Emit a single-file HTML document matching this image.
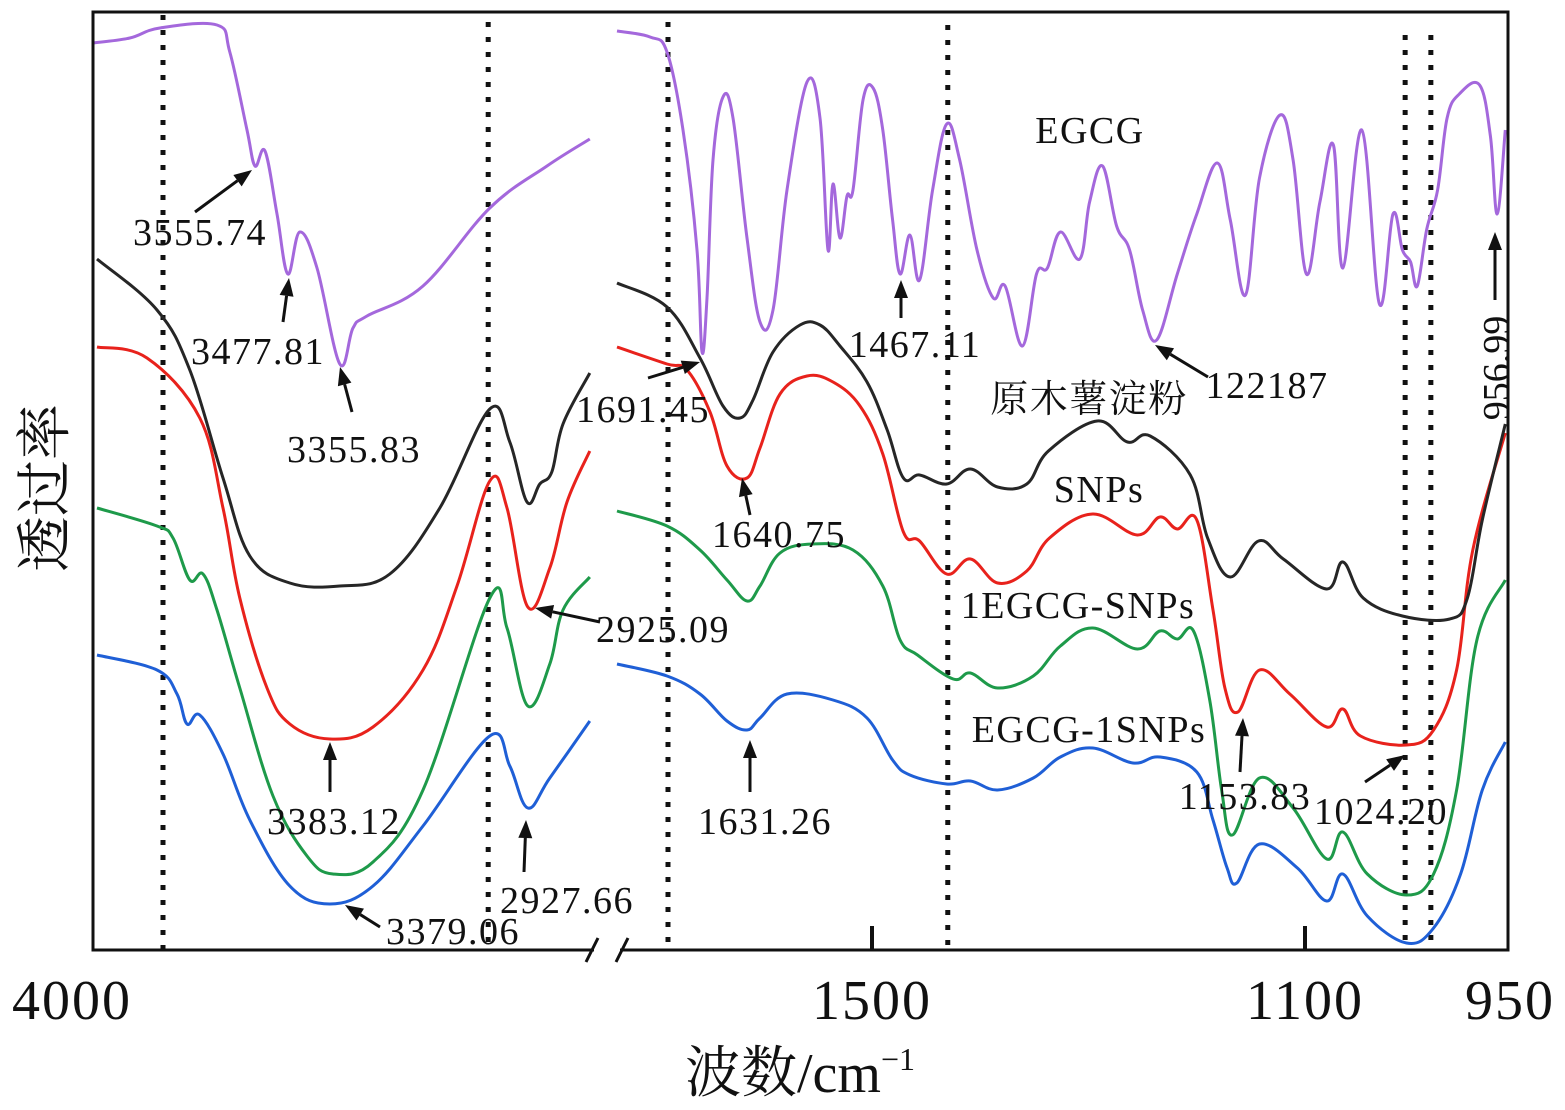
<!DOCTYPE html>
<html><head><meta charset="utf-8">
<style>
html,body{margin:0;padding:0;background:#fff;}
svg{display:block;}
text{font-family:"Liberation Serif","Noto Serif CJK SC",serif;fill:#111;}
</style></head>
<body>
<svg id="chart" width="1565" height="1110" viewBox="0 0 1565 1110" xmlns="http://www.w3.org/2000/svg">
  <rect x="0" y="0" width="1565" height="1110" fill="#fff"/>
  <g id="dots"></g>
  <g id="series"></g>
  <g id="frame">
    <rect x="93" y="12" width="1415" height="938" fill="none" stroke="#111" stroke-width="3"/>
    <rect x="594" y="944" width="26" height="12" fill="#fff"/>
    <line x1="586" y1="962" x2="598" y2="938" stroke="#111" stroke-width="3"/>
    <line x1="616" y1="962" x2="628" y2="938" stroke="#111" stroke-width="3"/>
  </g>
  <g id="ticks"></g>
  <g id="annot"></g>
  <text x="800" y="1092" font-size="56" text-anchor="middle">波数/cm<tspan font-size="32" dy="-22">−1</tspan></text>
  <text transform="translate(64,488) rotate(-90)" font-size="56" text-anchor="middle">透过率</text>
</svg>
<script>
// ---- data ----
const tickLabels = [4000, 1500, 1100, 950];
const tickMarks = [1500, 1100];
const dottedWavenumbers = [3825, 3012, 1704, 1430, 1026, 1007];

const egcgWn = [4000,3908,3833,3690,3658,3615,3595,3570,3540,3513,3483,3440,3383,3350,3315,3175,3008,2865,2758,
  1755,1722,1705,1689,1675,1670,1665,1659,1649,1639,1625,1612,1599,1585,1565,1552,1544,1539,1532,1525,1519,1509,1499,
  1490,1481,1474,1465,1456,1444,1431,1419,1403,1388,1377,1361,1348,1338,1326,1308,1299,1287,1274,1262,1250,1237,1218,1200,1181,1169,1155,1142,1123,1111,
  1099,1089,1079,1072,1058,1045,1035,1028,1022,1017,1010,1002,995,986,971,963,958,952];
const egcgVal = [90.7,91.2,92.2,92.5,89.8,82,78.4,79.9,73.6,67.6,71.8,68.2,58.6,62.2,63.4,66.4,74.2,78.4,81.1,
  91.9,91.3,89.8,82,70,59.8,65.2,79,85.3,83.2,71.2,62.8,64,76,86.8,83.2,70,76.6,71.2,75.4,76,85,86.2,
  82,73,67.6,71.5,67,76,82.6,79,70,65.2,66.4,60.4,67.6,68.2,71.8,69.1,74.8,78.4,72.4,70,64,61,67.6,73.6,78.7,73,65.5,77.2,83.5,79,
  67.6,74.8,80.5,68.2,82,64.6,73.6,70,68.8,66.4,72.1,76,83.2,85.6,86.5,81.4,73.6,82];

const snpWn = [3990,3840,3758,3675,3608,3508,3383,3258,3133,3008,2958,2915,2883,2853,2825,2758,
  1755,1705,1672,1649,1632,1619,1599,1572,1552,1532,1505,1486,1471,1456,1431,1409,1384,1357,1337,1292,1264,1243,1206,1190,1169,1143,1120,1084,1072,1057,1028,993,980,969,952];
const snpVal = [69.1,64,58,47.2,39.4,36.7,36.4,37.6,44.2,54.1,50.8,44.8,46.6,47.8,52.6,57.7,
  66.7,64.3,59.2,54.4,53.2,55,59.8,62.5,62.5,60.4,56.8,52,47.2,47.5,46.6,48.1,46.3,46.6,49.9,52.9,50.8,51.4,47.5,41.2,37.3,40.9,39.1,36.1,38.8,35.2,33.4,33.1,35.2,43,52.6];

const esnpWn = [3990,3865,3733,3675,3633,3565,3508,3408,3300,3175,3090,3008,2965,2913,2858,2815,2758,
  1755,1705,1685,1662,1645,1625,1612,1592,1565,1539,1512,1490,1471,1456,1431,1409,1384,1357,1336,1296,1255,1234,1218,1200,1185,1174,1162,1142,1114,1084,1072,1059,1025,1005,988,976,952];
const esnpVal = [60.3,59.2,53.2,44.2,35.2,26.2,22.6,21.1,22.3,28,36.4,46.9,44.2,34.3,38.2,44.8,49.9,
  60.3,58.6,58,53.8,48.4,47.2,50.2,55.6,57.4,56.8,54.4,49.6,41.8,40.9,37.6,39.1,36.7,37.9,41.2,43.6,41.5,43.3,42.1,43,34,26.2,23.8,28,25.6,22.3,24.1,21.4,20.5,22,28,40,51.7];

const e1snpWn = [3990,3840,3800,3758,3725,3690,3633,3550,3465,3400,3300,3175,3008,2965,2913,2858,2825,2758,
  1755,1705,1672,1645,1625,1612,1592,1559,1519,1490,1474,1458,1425,1409,1384,1351,1326,1296,1255,1234,1218,1203,1188,1177,1167,1142,1111,1084,1072,1054,1025,1005,988,973,952];
const e1snpVal = [44.2,42.4,41.2,37,37.6,34,26.2,15.4,9.4,7.6,8.8,16,35.2,32.2,24.4,28.6,34,37.3,
  43.9,42.4,40,37,34.9,36.4,39.7,40.6,40,36.4,31,29.5,27.1,27.7,26.2,27.4,30.4,32.2,30.1,31.9,31.1,31.9,25,16,11.5,17.2,14.2,9.1,11.8,7.6,5.5,7.6,16,31,37];

const esnp1Wn = [3990,3840,3790,3765,3733,3675,3608,3508,3408,3300,3175,3008,2958,2913,2858,2758,
  1755,1705,1672,1645,1625,1612,1585,1539,1505,1481,1465,1431,1409,1384,1351,1326,1296,1259,1234,1200,1185,1172,1163,1142,1107,1084,1072,1054,1025,1005,985,969,952];
const esnp1Val = [29.5,28,25.6,22.6,23.5,19.6,13,6.4,4.6,6.4,12.4,21.4,18.4,14.2,17.2,22.9,
  28.6,27.4,25.6,22.9,22,23.2,25.6,25,23.2,19,17.5,16.6,16.9,16,17.2,19.3,20.2,18.7,19.3,17.8,13,8.2,6.7,10.6,8.2,4.9,7.6,3.4,0.7,2.2,7.6,16,20.8];

// ---- scales ----
const PLOT_TOP = 12, PLOT_BOTTOM = 950;
function yScale(v){ return PLOT_BOTTOM - v*10; }
const rightKnotsW = [1760,1500,1100,950];
const rightKnotsX = [612,872,1305,1508];
function xScale(w){
  if (w >= 2000) return 93 + (4000 - w)*0.4;
  for (let i=0;i<rightKnotsW.length-1;i++){
    const a=rightKnotsW[i], b=rightKnotsW[i+1];
    if (w<=a && w>=b) return rightKnotsX[i] + (a-w)/(a-b)*(rightKnotsX[i+1]-rightKnotsX[i]);
  }
  return w>1760 ? 612 : 1508;
}
const NS='http://www.w3.org/2000/svg';
function smoothPath(pts){
  let d='M'+pts[0][0].toFixed(1)+','+pts[0][1].toFixed(1);
  for(let i=0;i<pts.length-1;i++){
    const p0=pts[i-1]||pts[i], p1=pts[i], p2=pts[i+1], p3=pts[i+2]||p2;
    const t=0.18;
    const c1=[p1[0]+(p2[0]-p0[0])*t, p1[1]+(p2[1]-p0[1])*t];
    const c2=[p2[0]-(p3[0]-p1[0])*t, p2[1]-(p3[1]-p1[1])*t];
    d+=' C'+c1[0].toFixed(1)+','+c1[1].toFixed(1)+' '+c2[0].toFixed(1)+','+c2[1].toFixed(1)+' '+p2[0].toFixed(1)+','+p2[1].toFixed(1);
  }
  return d;
}
function drawSeries(wn, val, color, name){
  const g=document.getElementById('series');
  const left=[], right=[];
  for(let i=0;i<wn.length;i++){
    const p=[xScale(wn[i]), yScale(val[i])];
    (wn[i]>=2000?left:right).push(p);
  }
  [[left,'left'],[right,'right']].forEach(([pts,side])=>{
    if(pts.length<2) return;
    const path=document.createElementNS(NS,'path');
    path.setAttribute('d',smoothPath(pts));
    path.setAttribute('fill','none');
    path.setAttribute('stroke',color);
    path.setAttribute('stroke-width','3');
    path.setAttribute('stroke-linejoin','round');
    
    
    g.appendChild(path);
  });
}
// dotted lines
(function(){
  const g=document.getElementById('dots');
  const tops=[15,22,22,25,35,35];
  dottedWavenumbers.forEach((w,i)=>{
    const l=document.createElementNS(NS,'line');
    const x=xScale(w);
    l.setAttribute('x1',x);l.setAttribute('x2',x);
    l.setAttribute('y1',tops[i]);l.setAttribute('y2',PLOT_BOTTOM);
    l.setAttribute('stroke','#111');l.setAttribute('stroke-width','5');
    l.setAttribute('stroke-dasharray','5 10');
    
    
    g.appendChild(l);
  });
})();
drawSeries(esnp1Wn, esnp1Val, '#1f5fd6', 'egcg-1snps');
drawSeries(e1snpWn, e1snpVal, '#1e9a4a', '1egcg-snps');
drawSeries(esnpWn, esnpVal, '#e8221c', 'snps');
drawSeries(snpWn, snpVal, '#262626', 'raw-cassava-starch');
drawSeries(egcgWn, egcgVal, '#a468dc', 'egcg');
// ticks
(function(){
  const g=document.getElementById('ticks');
  tickMarks.forEach(w=>{
    const l=document.createElementNS(NS,'line');
    const x=xScale(w);
    l.setAttribute('x1',x);l.setAttribute('x2',x);l.setAttribute('y1',926);l.setAttribute('y2',PLOT_BOTTOM);
    l.setAttribute('stroke','#111');l.setAttribute('stroke-width','4');
    
    
    g.appendChild(l);
  });
  tickLabels.forEach(w=>{
    const t=document.createElementNS(NS,'text');
    let x=xScale(w);
    if(w===4000) x=72; if(w===950) x=1510;
    t.setAttribute('x',x);t.setAttribute('y',1019);
    t.setAttribute('font-size','56');t.setAttribute('text-anchor','middle');
    t.setAttribute('letter-spacing','2');
    t.textContent=w;
    
    
    g.appendChild(t);
  });
})();
// annotations
(function(){
  const g=document.getElementById('annot');
  const labels=[
    ['3555.74',200,245],['3477.81',258,364],['3355.83',354,462],['1691.45',643,422],['1467.11',915,357],
    ['122187',1267,398],['EGCG',1090,143],['原木薯淀粉',1089,412],['SNPs',1099,502],['1EGCG-SNPs',1078,618],
    ['EGCG-1SNPs',1089,742],['1640.75',779,547],['2925.09',663,642],['3383.12',334,834],['1631.26',765,834],
    ['2927.66',567,913],['3379.06',453,944],['1153.83',1245,809],['1024.20',1381,824]
  ];
  labels.forEach(([s,x,y])=>{
    const t=document.createElementNS(NS,'text');
    t.setAttribute('x',x);t.setAttribute('y',y);t.setAttribute('font-size','38');t.setAttribute('text-anchor','middle');
    t.setAttribute('letter-spacing','1.5');
    t.textContent=s;
    
    
    g.appendChild(t);
  });
  const rt=document.createElementNS(NS,'text');
  rt.setAttribute('transform','translate(1509,368) rotate(-90)');
  rt.setAttribute('font-size','38');rt.setAttribute('text-anchor','middle');
  rt.textContent='956.99';
  
  
  g.appendChild(rt);
  const arrows=[
    [195,212,252,170],[283,322,289,278],[352,412,340,367],[648,378,700,362],[901,318,901,280],
    [1208,377,1155,345],[750,515,742,478],[600,622,535,608],[330,792,330,742],[750,792,750,740],
    [524,872,526,820],[380,927,345,905],[1240,772,1243,718],[1365,782,1405,755],[1495,300,1495,232]
  ];
  arrows.forEach(([x1,y1,x2,y2])=>{
    const ang=Math.atan2(y2-y1,x2-x1), L=18, W=7;
    const bx=x2-L*Math.cos(ang), by=y2-L*Math.sin(ang);
    const l=document.createElementNS(NS,'line');
    l.setAttribute('x1',x1);l.setAttribute('y1',y1);l.setAttribute('x2',bx);l.setAttribute('y2',by);
    l.setAttribute('stroke','#111');l.setAttribute('stroke-width','3');
    
    
    g.appendChild(l);
    const p=document.createElementNS(NS,'polygon');
    const px=-Math.sin(ang), py=Math.cos(ang);
    p.setAttribute('points',`${x2},${y2} ${bx+px*W},${by+py*W} ${bx-px*W},${by-py*W}`);
    p.setAttribute('fill','#111');
    
    
    g.appendChild(p);
  });
})();
</script>
</body></html>
